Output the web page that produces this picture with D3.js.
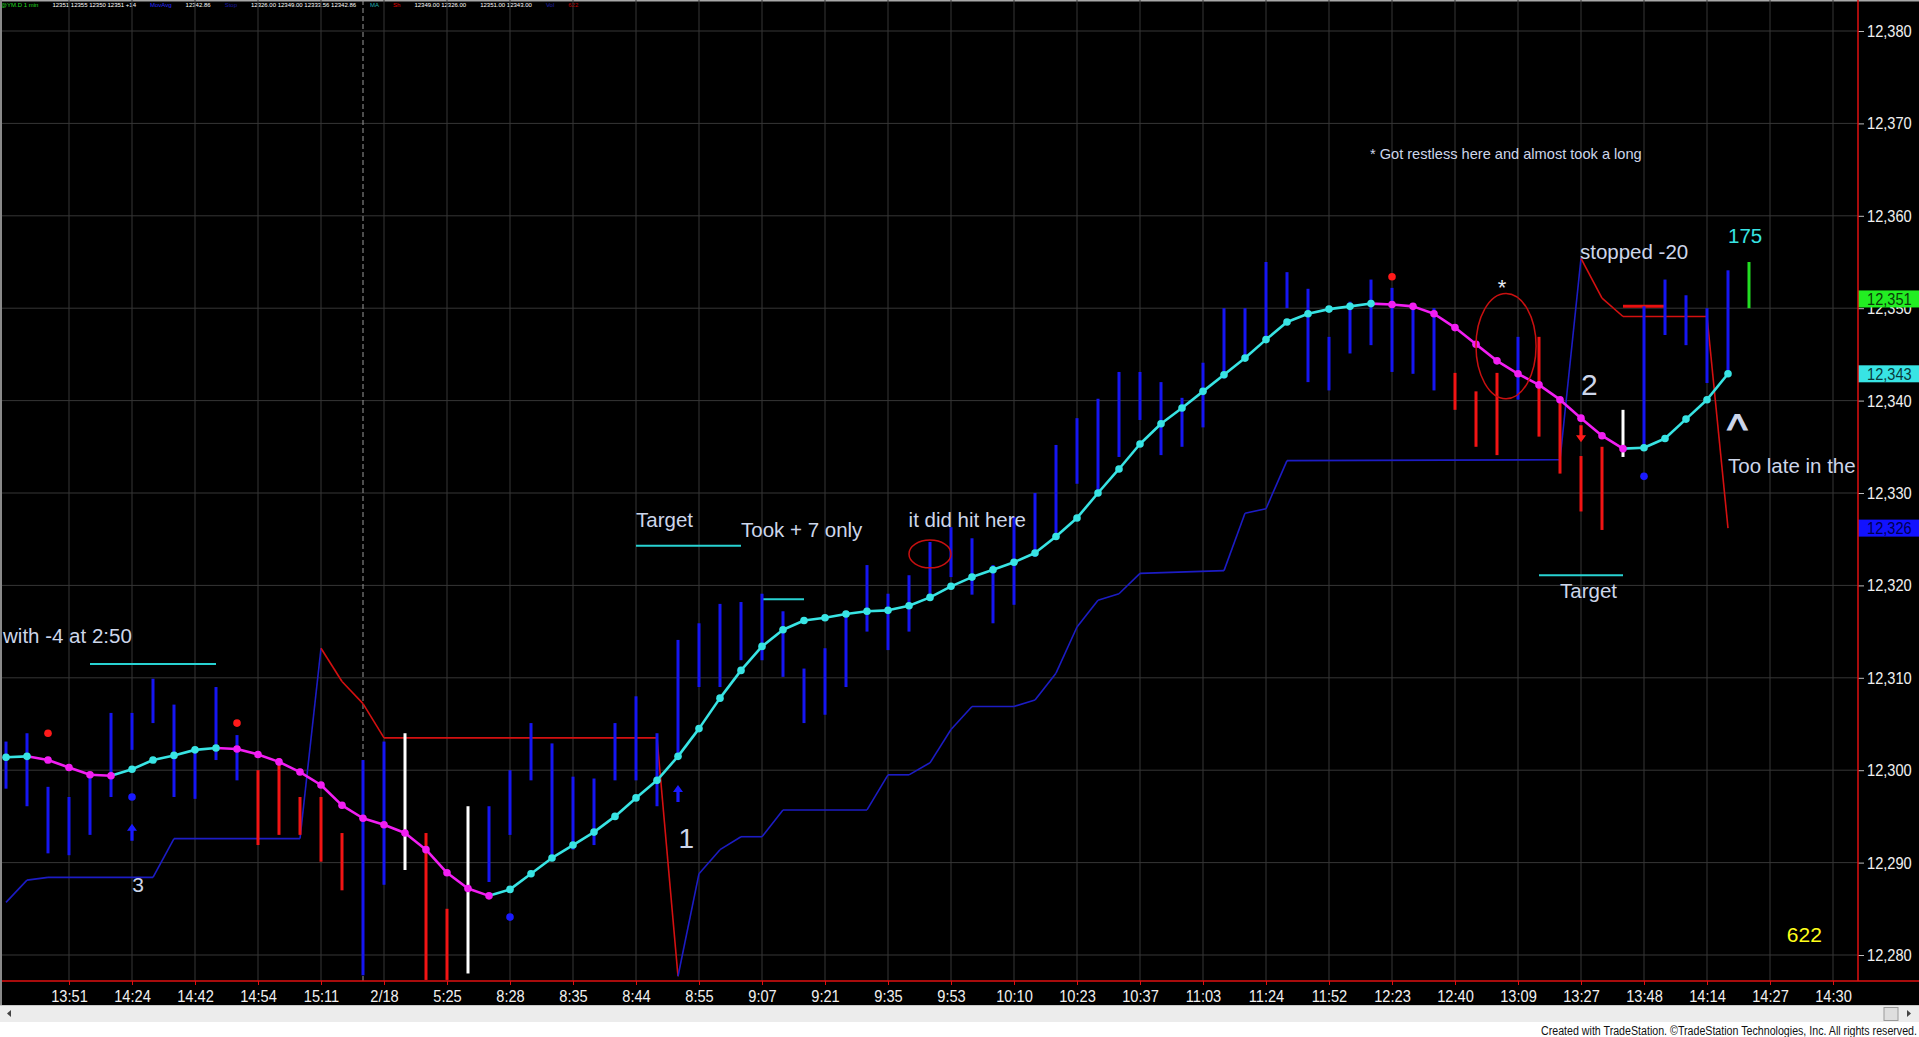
<!DOCTYPE html>
<html>
<head>
<meta charset="utf-8">
<title>YM 1 min</title>
<script src="https://cdn.jsdelivr.net/npm/d3@7/dist/d3.min.js"></script>
<style>
  body { margin: 0; background: #000; overflow: hidden; }
  svg { display: block; font-family: "Liberation Sans", Arial, sans-serif; }
</style>
</head>
<body>
<svg id="chart" width="1919" height="1037"></svg>
<script>
// time labels on the x axis, one every 3 bars starting at bar 3
const timeLabels = ["13:51","14:24","14:42","14:54","15:11","2/18","5:25","8:28","8:35","8:44",
  "8:55","9:07","9:21","9:35","9:53","10:10","10:23","10:37","11:03","11:24",
  "11:52","12:23","12:40","13:09","13:27","13:48","14:14","14:27","14:30"]

const priceTicks = d3.range(12280, 12381, 10)

// bar highs / lows
const barHigh = [12303.1,12304.0,12298.2,12297.1,12299.7,12306.2,12306.2,12309.9,12307.1,12302.5,
  12309.0,12303.8,12300.0,12301.3,12297.1,12297.1,12293.2,12301.1,12303.1,12304.0,
  12293.2,12285.0,12296.1,12296.1,12300.0,12305.1,12302.9,12299.3,12299.1,12305.1,
  12308.0,12304.0,12314.1,12315.9,12318.0,12318.2,12319.1,12317.2,12311.0,12313.2,
  12317.2,12322.2,12319.1,12321.1,12324.7,12326.3,12325.1,12322.2,12327.4,12330.0,
  12335.2,12338.1,12340.2,12343.1,12343.1,12342.0,12340.3,12344.1,12350.0,12350.0,
  12355.0,12353.9,12352.1,12346.9,12350.7,12353.1,12352.2,12350.5,12350.0,12343.0,
  12341.0,12343.0,12346.9,12346.9,12340.1,12334.0,12335.0,12339.0,12350.2,12353.1,
  12351.4,12350.0,12354.1,12355.0]
const barLow = [12298.0,12296.1,12291.0,12290.8,12293.0,12297.1,12302.2,12305.1,12297.1,12296.9,
  12301.1,12298.9,12291.9,12293.0,12293.0,12290.1,12287.0,12277.8,12287.6,12289.2,
  12277.3,12277.3,12278.0,12287.9,12293.0,12298.9,12290.3,12291.4,12291.9,12298.9,
  12298.9,12296.1,12301.5,12309.0,12309.0,12311.9,12311.9,12310.1,12305.1,12306.0,
  12309.0,12315.0,12313.0,12315.0,12318.4,12320.9,12319.0,12315.9,12317.9,12323.1,
  12325.5,12331.0,12330.0,12333.9,12337.9,12334.1,12335.0,12337.1,12342.4,12344.4,
  12346.6,12350.0,12342.0,12341.1,12345.1,12346.0,12343.1,12342.9,12341.1,12339.0,
  12335.0,12334.1,12340.1,12336.1,12332.1,12328.0,12326.0,12333.9,12334.8,12347.1,
  12346.0,12341.9,12342.8,12350.0]
// b = up (blue), r = down (red), w = white, g = current bar
const barColorRuns = [['b',12],['r',5],['b',2],['w',1],['r',2],['w',1],['b',46],['r',3],['b',1],['r',4],['w',1],['b',5],['g',1]]
const lastPrice = 12351

// moving average
const maValues = [12301.4,12301.5,12301.1,12300.3,12299.5,12299.4,12300.1,12301.1,12301.6,12302.2,
  12302.4,12302.3,12301.7,12300.9,12299.8,12298.4,12296.2,12294.8,12294.1,12293.2,
  12291.4,12288.9,12287.2,12286.4,12287.1,12288.8,12290.5,12291.9,12293.3,12295.0,
  12297.0,12298.9,12301.5,12304.5,12307.8,12310.8,12313.4,12315.2,12316.2,12316.5,
  12316.9,12317.2,12317.3,12317.8,12318.7,12319.9,12320.9,12321.7,12322.5,12323.5,
  12325.3,12327.3,12330.0,12332.6,12335.3,12337.5,12339.2,12341.0,12342.8,12344.6,
  12346.6,12348.5,12349.4,12349.9,12350.2,12350.5,12350.4,12350.2,12349.4,12347.9,
  12346.1,12344.3,12342.9,12341.7,12340.1,12338.1,12336.2,12334.8,12334.9,12335.9,
  12338.0,12340.1,12342.9]

// trailing stop vertices [bar, price, side]  L = long stop, S = short stop
const stopPts = [[0,12285.7,'L'],[1,12288.1,'L'],[2,12288.4,'L'],[7,12288.4,'L'],[8,12292.6,'L'],[14,12292.6,'L'],
  [15,12313.2,'S'],[16,12309.6,'S'],[17,12307.2,'S'],[18,12303.5,'S'],[31,12303.5,'S'],
  [32,12277.7,'L'],[33,12288.8,'L'],[34,12291.4,'L'],[35,12292.8,'L'],[36,12292.8,'L'],[37,12295.7,'L'],
  [41,12295.7,'L'],[42,12299.5,'L'],[43,12299.5,'L'],[44,12300.8,'L'],[45,12304.4,'L'],[46,12306.9,'L'],
  [48,12306.9,'L'],[49,12307.6,'L'],[50,12310.5,'L'],[51,12315.5,'L'],[52,12318.4,'L'],[53,12319.1,'L'],
  [54,12321.3,'L'],[58,12321.6,'L'],[59,12327.8,'L'],[60,12328.3,'L'],[61,12333.5,'L'],[74,12333.6,'L'],
  [75,12355.4,'S'],[76,12351.1,'S'],[77,12349.1,'S'],[81,12349.1,'S'],[82,12326.2,'S']]

// signal markers [bar, price]
const redDots = [[2,12304.0],[11,12305.1],[66,12353.4]]
const blueDots = [[6,12297.1],[24,12284.1],[78,12331.8]]
const upArrows = [[6,12294.2],[32,12298.4]]
const downArrows = [[75,12335.5]]

// drawn lines [fromBar, toBar, price]
const targetLines = [[4,10,12311.5],[30,35,12324.3],[36,38,12318.5],[73,77,12321.1]]
const entryLines = [[77,79,12350.2]]
// ellipses [fromBar, toBar, lowPrice, highPrice]
const ellipses = [[43,45,12321.9,12324.9],[70,72.86,12340.2,12351.6]]

// notes
const noteText = ["with -4 at 2:50","3","Target","Took + 7 only","it did hit here","1",
  "* Got restless here and almost took a long","*","2","stopped -20","175","^",
  "Too late in the","Target","622"]
const noteAt = [[-0.14,12313.8],[6.29,12286.8],[30,12326.3],[35,12325.2],[42.98,12326.3],[32.4,12291.6],
  [64.95,12366.1],[71.24,12351.4],[75.4,12340.6],[74.95,12355.3],[82,12357.1],[82.45,12335.3],
  [82,12332.2],[74,12318.6],[84.8,12281.4]]
const noteKind = ["n","num","n","n","n","big","small","star","big2","n","cyan","caret","n","n","yellow"]

const headerItems = [["@YM.D 1 min","#22dd22"],["12351 12355 12350 12351 +14","#ffffff"],["MovAvg","#2a2aff"],
  ["12342.86","#ffffff"],["Stop","#1a1aa0"],["12326.00 12349.00 12333.56 12342.86","#ffffff"],["MA","#20b0b0"],
  ["Sh","#e00000"],["12349.00 12326.00","#ffffff"],["12351.00 12343.00","#ffffff"],["Vol","#2020b0"],["622","#c00000"]]

const svg = d3.select('#chart')
const W = 1919, H = 1037
const plotRight = 1858, plotBottom = 981

const x = d3.scaleLinear().domain([0, 87]).range([6, 1833])
const y = d3.scaleLinear().domain([12280, 12380]).range([955, 31])
const tickIdx = d3.range(3, 88, 3)

const CYAN = '#38e4e4', MAGENTA = '#f21ef2', NOTE = '#cdd6ea'
const barColors = {b:'#1616f2', r:'#f21414', w:'#ffffff', g:'#22dd22'}
const barColor = barColorRuns.flatMap(([c, n]) => d3.range(n).map(() => c))

// squeeze axis text to look like the narrow chart font
function condense(sel, k) {
    sel.each(function () {
        const w = this.getComputedTextLength()
        d3.select(this).attr('textLength', w * k).attr('lengthAdjust', 'spacingAndGlyphs')
    })
}

svg.append('rect').attr('width', W).attr('height', H).attr('fill', '#000')

// header strip
svg.append('rect').attr('width', W).attr('height', 1.5).attr('fill', '#a8a8a8')
const hdr = svg.append('g').style('font-size', '6px')
let hx = 1
headerItems.forEach(([t, c]) => {
    const tx = hdr.append('text').attr('x', hx).attr('y', 7).attr('fill', c).text(t)
    hx += tx.node().getComputedTextLength() + 14
})

// grid
svg.append('g').selectAll('line').data(priceTicks).join('line')
    .attr('x1', 0).attr('x2', plotRight)
    .attr('y1', d => y(d)).attr('y2', d => y(d))
    .attr('stroke', '#363636')
svg.append('g').selectAll('line').data(tickIdx).join('line')
    .attr('x1', d => x(d)).attr('x2', d => x(d))
    .attr('y1', 0).attr('y2', plotBottom)
    .attr('stroke', '#363636')
// session break
svg.append('line')
    .attr('x1', x(17)).attr('x2', x(17)).attr('y1', 0).attr('y2', plotBottom)
    .attr('stroke', '#9a9a9a').attr('stroke-dasharray', '5,3')

svg.append('clipPath').attr('id', 'plotclip')
    .append('rect').attr('x', 0).attr('y', 0).attr('width', plotRight).attr('height', plotBottom)
const plot = svg.append('g').attr('clip-path', 'url(#plotclip)')

// trailing stop
const stopSegs = d3.pairs(stopPts)
plot.append('g').selectAll('line').data(stopSegs).join('line')
    .attr('x1', d => x(d[0][0])).attr('y1', d => y(d[0][1]))
    .attr('x2', d => x(d[1][0])).attr('y2', d => y(d[1][1]))
    .attr('stroke', d => d[0][2] === 'L' ? '#1c1cc4' : '#d41010')
    .attr('stroke-width', 1.6)

// target / entry lines
plot.append('g').selectAll('line').data(targetLines).join('line')
    .attr('x1', d => x(d[0])).attr('x2', d => x(d[1]))
    .attr('y1', d => y(d[2])).attr('y2', d => y(d[2]))
    .attr('stroke', '#28d2d2').attr('stroke-width', 2)
plot.append('g').selectAll('line').data(entryLines).join('line')
    .attr('x1', d => x(d[0])).attr('x2', d => x(d[1]))
    .attr('y1', d => y(d[2])).attr('y2', d => y(d[2]))
    .attr('stroke', '#e81010').attr('stroke-width', 3)

// bars
plot.append('g').selectAll('line').data(barHigh.map((h, i) => ({i, h, l: barLow[i], c: barColor[i]}))).join('line')
    .attr('x1', d => x(d.i)).attr('x2', d => x(d.i))
    .attr('y1', d => y(d.h)).attr('y2', d => y(d.l))
    .attr('stroke', d => barColors[d.c])
    .attr('stroke-width', 3)

// moving average, coloured by slope
const maCol = maValues.map((v, i) => i === 0 || v >= maValues[i - 1] ? CYAN : MAGENTA)
plot.append('g').selectAll('line').data(d3.range(1, maValues.length)).join('line')
    .attr('x1', i => x(i - 1)).attr('y1', i => y(maValues[i - 1]))
    .attr('x2', i => x(i)).attr('y2', i => y(maValues[i]))
    .attr('stroke', i => maCol[i]).attr('stroke-width', 2.6)
plot.append('g').selectAll('circle').data(maValues).join('circle')
    .attr('cx', (d, i) => x(i)).attr('cy', d => y(d)).attr('r', 3.8)
    .attr('fill', (d, i) => maCol[i])

// markers
plot.append('g').selectAll('circle').data(redDots).join('circle')
    .attr('cx', d => x(d[0])).attr('cy', d => y(d[1])).attr('r', 3.8).attr('fill', '#ff1a1a')
plot.append('g').selectAll('circle').data(blueDots).join('circle')
    .attr('cx', d => x(d[0])).attr('cy', d => y(d[1])).attr('r', 3.8).attr('fill', '#1a1aff')
const upPath = 'M0,0L5,7L1.6,7L1.6,17L-1.6,17L-1.6,7L-5,7Z'
plot.append('g').selectAll('path').data(upArrows).join('path')
    .attr('d', upPath).attr('fill', '#1a1aff')
    .attr('transform', d => `translate(${x(d[0])},${y(d[1])})`)
plot.append('g').selectAll('path').data(downArrows).join('path')
    .attr('d', upPath).attr('fill', '#ff1a1a')
    .attr('transform', d => `translate(${x(d[0])},${y(d[1])}) scale(1,-1)`)

// ellipses
plot.append('g').selectAll('ellipse').data(ellipses).join('ellipse')
    .attr('cx', d => (x(d[0]) + x(d[1])) / 2).attr('cy', d => (y(d[2]) + y(d[3])) / 2)
    .attr('rx', d => (x(d[1]) - x(d[0])) / 2).attr('ry', d => (y(d[2]) - y(d[3])) / 2)
    .attr('fill', 'none').attr('stroke', '#c81010').attr('stroke-width', 1.5)

// notes
const noteStyle = {
    n: {size: 20.5, fill: NOTE, anchor: 'start'},
    small: {size: 14.6, fill: NOTE, anchor: 'start'},
    num: {size: 21, fill: NOTE, anchor: 'middle'},
    big: {size: 28, fill: NOTE, anchor: 'middle'},
    big2: {size: 30, fill: NOTE, anchor: 'middle'},
    star: {size: 22, fill: '#e6ecf6', anchor: 'middle'},
    cyan: {size: 20.5, fill: CYAN, anchor: 'start'},
    caret: {size: 43, fill: NOTE, anchor: 'middle'},
    yellow: {size: 21, fill: '#ffff1a', anchor: 'start'}
}
plot.append('g').selectAll('text').data(noteText).join('text')
    .attr('x', (d, i) => x(noteAt[i][0])).attr('y', (d, i) => y(noteAt[i][1]))
    .attr('text-anchor', (d, i) => noteStyle[noteKind[i]].anchor)
    .attr('fill', (d, i) => noteStyle[noteKind[i]].fill)
    .attr('stroke', (d, i) => noteKind[i] === 'caret' ? NOTE : 'none')
    .attr('stroke-width', 1.2)
    .style('font-size', (d, i) => noteStyle[noteKind[i]].size + 'px')
    .text(d => d)

// axes
const yAxis = d3.axisRight(y).tickValues(priceTicks).tickFormat(d3.format(',')).tickSize(6).tickPadding(3)
svg.append('g').attr('transform', `translate(${plotRight},0)`).call(yAxis)
    .call(g => g.select('.domain').remove())
    .call(g => g.selectAll('line').attr('stroke', '#bcbcbc'))
    .call(g => g.selectAll('text').attr('fill', '#f0f0f0').style('font-size', '17px'))
    .call(g => condense(g.selectAll('text'), 0.86))

const xAxis = d3.axisBottom(x).tickValues(tickIdx).tickFormat(d => timeLabels[(d - 3) / 3]).tickSize(4).tickPadding(5)
svg.append('g').attr('transform', `translate(0,${plotBottom})`).call(xAxis)
    .call(g => g.select('.domain').remove())
    .call(g => g.selectAll('line').attr('stroke', '#e01010'))
    .call(g => g.selectAll('text').attr('fill', '#f0f0f0').style('font-size', '17px'))
    .call(g => condense(g.selectAll('text'), 0.86))

// current values on the price axis
const valueBoxes = [[lastPrice, '#22ee22', '#0a3a0a'], [maValues[maValues.length - 1], '#38e4e4', '#0a3a3a'],
    [stopPts[stopPts.length - 1][1], '#1212ff', '#000050']]
const vb = svg.append('g').selectAll('g').data(valueBoxes).join('g')
    .attr('transform', d => `translate(${plotRight},${y(d[0])})`)
vb.append('rect').attr('x', 0).attr('y', -8.5).attr('width', W - plotRight).attr('height', 17).attr('fill', d => d[1])
vb.append('text').attr('x', 9).attr('dy', '0.34em').attr('fill', d => d[2])
    .style('font-size', '17px')
    .text(d => d3.format(',')(Math.round(d[0])))
    .call(t => condense(t, 0.86))

// red axis frame
svg.append('line').attr('x1', plotRight).attr('x2', plotRight).attr('y1', 0).attr('y2', plotBottom)
    .attr('stroke', '#e01010').attr('stroke-width', 1.5)
svg.append('line').attr('x1', 0).attr('x2', W).attr('y1', plotBottom).attr('y2', plotBottom)
    .attr('stroke', '#e01010').attr('stroke-width', 1.5)
svg.append('line').attr('x1', 1).attr('x2', 1).attr('y1', 0).attr('y2', 1005)
    .attr('stroke', '#8a8a8a').attr('stroke-width', 2)

// scroll bar and footer
svg.append('rect').attr('x', 0).attr('y', 1005).attr('width', W).attr('height', 17).attr('fill', '#ececec')
svg.append('line').attr('x1', 0).attr('x2', W).attr('y1', 1005.5).attr('y2', 1005.5).attr('stroke', '#c8c8c8')
svg.append('rect').attr('x', 1884).attr('y', 1007.5).attr('width', 14).attr('height', 13)
    .attr('fill', '#dedede').attr('stroke', '#9a9a9a')
svg.append('path').attr('d', 'M1907,1010L1911,1013.5L1907,1017Z').attr('fill', '#444')
svg.append('path').attr('d', 'M11,1010L7,1013.5L11,1017Z').attr('fill', '#444')
svg.append('rect').attr('x', 0).attr('y', 1022).attr('width', W).attr('height', H - 1022).attr('fill', '#ffffff')
svg.append('text').attr('x', 1917).attr('y', 1035).attr('text-anchor', 'end')
    .attr('fill', '#111').style('font-size', '12px')
    .attr('textLength', 376).attr('lengthAdjust', 'spacingAndGlyphs')
    .text('Created with TradeStation. ©TradeStation Technologies, Inc. All rights reserved.')
</script>
</body>
</html>
